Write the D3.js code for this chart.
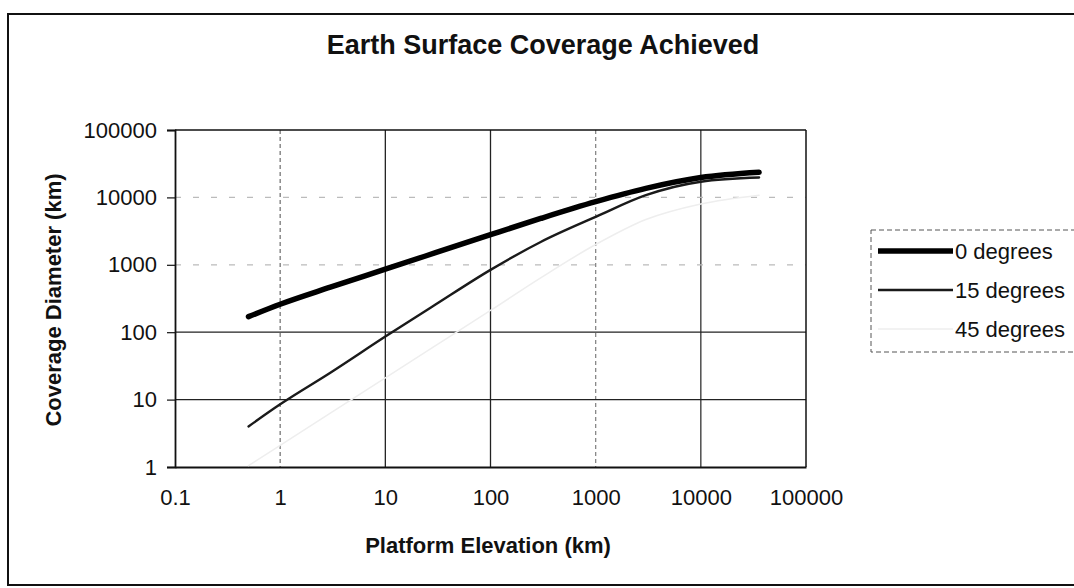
<!DOCTYPE html>
<html>
<head>
<meta charset="utf-8">
<script src="https://cdn.jsdelivr.net/npm/d3@7"></script>
<style>
  html, body { margin: 0; padding: 0; background: #fff; }
  svg { display: block; font-family: "Liberation Sans", Arial, sans-serif; }
</style>
</head>
<body>
<svg id="chart" width="1074" height="588"></svg>
<script>
// ---- data ----
const elevation = [0.5, 1, 3, 10, 30, 100, 300, 1000, 3000, 10000, 35786];
const deg0  = [170, 260, 465, 860, 1510, 2800, 4870, 8630, 13600, 19700, 23600];
const deg15 = [4.0, 8.5, 25, 86, 257, 840, 2180, 5140, 10800, 17100, 19700];
const deg45 = [1.05, 2.1, 6.3, 21, 63, 210, 640, 2000, 4700, 8000, 10800];
const seriesNames = ["0 degrees", "15 degrees", "45 degrees"];
const xTicks = [0.1, 1, 10, 100, 1000, 10000, 100000];
const yTicks = [1, 10, 100, 1000, 10000, 100000];
const titleText = "Earth Surface Coverage Achieved";
const xTitle = "Platform Elevation (km)";
const yTitle = "Coverage Diameter (km)";

const svg = d3.select("#chart");
const pLeft = 175, pRight = 806, pTop = 130, pBottom = 467;

const x = d3.scaleLog().domain([0.1, 100000]).range([pLeft, pRight]);
const y = d3.scaleLog().domain([1, 100000]).range([pBottom, pTop]);

// outer border
svg.append("rect").attr("x", 8).attr("y", 14).attr("width", 1080).attr("height", 571)
  .attr("fill", "none").attr("stroke", "#111").attr("stroke-width", 2);

// title
svg.append("text").attr("x", 543).attr("y", 54).attr("text-anchor", "middle")
  .attr("font-size", 27).attr("font-weight", "bold").attr("fill", "#111").text(titleText);

// gridlines
const gx = [1, 10, 100, 1000, 10000];
const gxStyle = {1: ["#777", "4,3"], 10: ["#222", null], 100: ["#222", null], 1000: ["#888", "4,3"], 10000: ["#333", null]};
svg.append("g").selectAll("line").data(gx).join("line")
  .attr("x1", d => x(d)).attr("x2", d => x(d)).attr("y1", pTop).attr("y2", pBottom)
  .attr("stroke", d => gxStyle[d][0]).attr("stroke-width", 1.3)
  .attr("stroke-dasharray", d => gxStyle[d][1]);
const gy = [10, 100, 1000, 10000];
const gyStyle = {10: ["#222", null], 100: ["#222", null], 1000: ["#bbb", "6,12"], 10000: ["#bbb", "6,12"]};
svg.append("g").selectAll("line").data(gy).join("line")
  .attr("x1", pLeft).attr("x2", pRight).attr("y1", d => y(d)).attr("y2", d => y(d))
  .attr("stroke", d => gyStyle[d][0]).attr("stroke-width", 1.3)
  .attr("stroke-dasharray", d => gyStyle[d][1]);

// plot frame (top and right)
svg.append("line").attr("x1", pLeft).attr("x2", pRight).attr("y1", pTop).attr("y2", pTop)
  .attr("stroke", "#111").attr("stroke-width", 1.5);
svg.append("line").attr("x1", pRight).attr("x2", pRight).attr("y1", pTop).attr("y2", pBottom)
  .attr("stroke", "#111").attr("stroke-width", 1.5);

// axes
const yAxis = svg.append("g").attr("transform", `translate(${pLeft},0)`)
  .call(d3.axisLeft(y).tickValues(yTicks).tickFormat(d3.format("d")).tickSize(8).tickPadding(10));
const xAxis = svg.append("g").attr("transform", `translate(0,${pBottom})`)
  .call(d3.axisBottom(x).tickValues(xTicks).tickFormat(d => d < 1 ? "0.1" : d3.format("d")(d)).tickSize(0).tickPadding(22));
[yAxis, xAxis].forEach(a => {
  a.select(".domain").attr("stroke", "#111").attr("stroke-width", 1.8);
  a.selectAll(".tick line").attr("stroke", "#111").attr("stroke-width", 1.2);
  a.selectAll(".tick text").attr("font-size", 22).attr("fill", "#111")
    .attr("font-family", "'Liberation Sans', Arial, sans-serif");
});

// axis titles
svg.append("text").attr("x", 488).attr("y", 553).attr("text-anchor", "middle")
  .attr("font-size", 22).attr("font-weight", "bold").attr("fill", "#111").text(xTitle);
svg.append("text").attr("transform", "translate(61,300) rotate(-90)").attr("text-anchor", "middle")
  .attr("font-size", 22).attr("font-weight", "bold").attr("fill", "#111").text(yTitle);

// series
const line = d3.line().x(d => x(d[0])).y(d => y(d[1])).curve(d3.curveMonotoneX);
const series = [
  {name: seriesNames[0], values: deg0,  color: "#000", width: 5.5},
  {name: seriesNames[1], values: deg15, color: "#1a1a1a", width: 2.4},
  {name: seriesNames[2], values: deg45, color: "#eeeeee", width: 1.5}
];
svg.append("g").selectAll("path").data(series.slice().reverse()).join("path")
  .attr("d", s => line(elevation.map((e, i) => [e, s.values[i]])))
  .attr("fill", "none").attr("stroke", s => s.color).attr("stroke-width", s => s.width)
  .attr("stroke-linecap", "round").attr("stroke-linejoin", "round");

// legend
const lg = svg.append("g");
lg.append("rect").attr("x", 871).attr("y", 230).attr("width", 220).attr("height", 122)
  .attr("fill", "#fff").attr("stroke", "#555").attr("stroke-width", 1).attr("stroke-dasharray", "5,3");
const ly = [251, 290, 329];
series.forEach((s, i) => {
  lg.append("line").attr("x1", 878).attr("x2", 953).attr("y1", ly[i]).attr("y2", ly[i])
    .attr("stroke", s.color).attr("stroke-width", s.width);
  lg.append("text").attr("x", 955).attr("y", ly[i] + 8).attr("font-size", 22).attr("fill", "#111").text(s.name);
});
</script>
</body>
</html>
